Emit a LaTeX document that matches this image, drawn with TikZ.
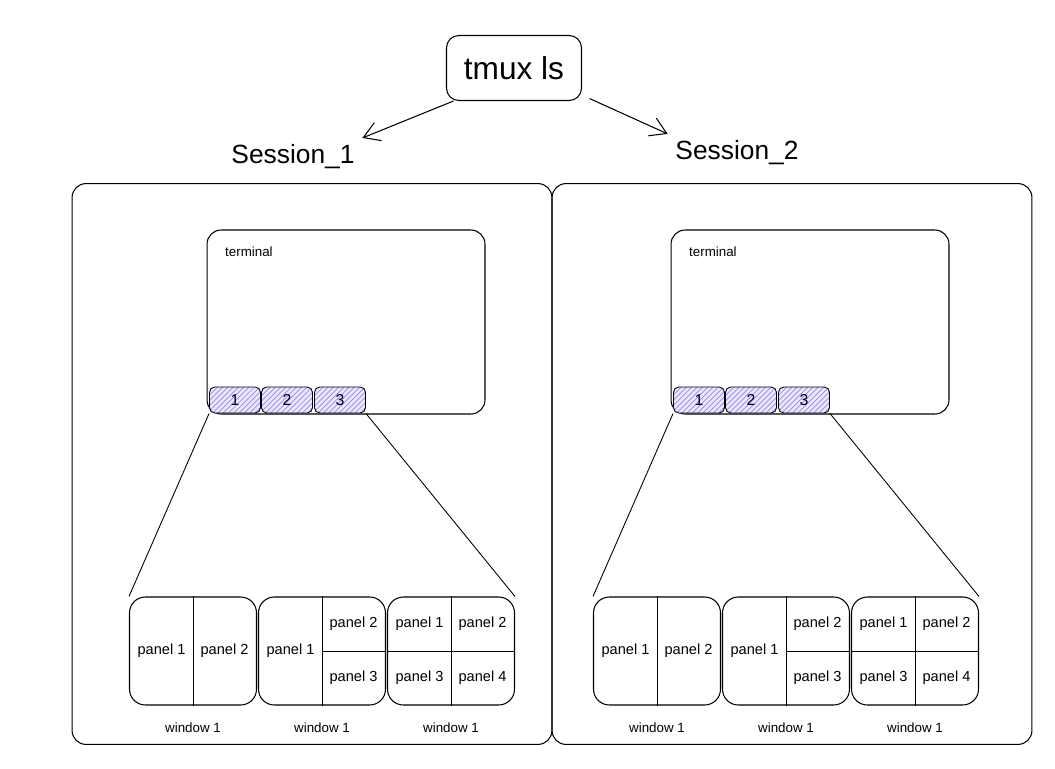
\documentclass[tikz,border=0pt]{standalone}
\usepackage{fontspec}
\setmainfont{Liberation Sans}
\usetikzlibrary{patterns,arrows.meta,positioning}
\definecolor{hatchblue}{RGB}{145,135,235}
\definecolor{tabfill}{RGB}{234,231,255}
\tikzset{roundbox/.style={draw, line width=0.6pt, rounded corners=8pt, inner sep=0pt},
  cmdbox/.style={roundbox, rounded corners=7pt, minimum width=2.7cm, minimum height=1.3cm, font=\fontsize{18}{20}\selectfont},
  sessbox/.style={roundbox, minimum width=9.6cm, minimum height=11.22cm},
  termbox/.style={roundbox, minimum width=5.56cm, minimum height=3.68cm},
  winbox/.style={roundbox, rounded corners=9pt, minimum width=2.54cm, minimum height=2.16cm},
  tabbox/.style={roundbox, line width=0.5pt, rounded corners=3pt, minimum width=1.02cm, minimum height=0.52cm,
    preaction={fill=tabfill}, pattern=north east lines, pattern color=hatchblue, font=\fontsize{9}{10}\selectfont},
  sesslabel/.style={font=\fontsize{15}{18}\selectfont},
  panellabel/.style={font=\fontsize{8.3}{9}\selectfont},
  smalllabel/.style={font=\fontsize{7.6}{8}\selectfont}
}

\begin{document}
\begin{tikzpicture}[x=0.02cm,y=-0.02cm]
\useasboundingbox (0,0) rectangle (1055,768);
\node[cmdbox] (tmux) at (514,68) {tmux ls};
\node[sesslabel] (s1lbl) at (293,157) {Session\_1};
\node[sesslabel] (s2lbl) at (737,153) {Session\_2};
\draw[-{Straight Barb[length=9pt,width=11pt]}, line width=0.6pt, shorten >=1pt] ([xshift=0.15cm]tmux.south west) -- (s1lbl.north east);
\draw[-{Straight Barb[length=9pt,width=11pt]}, line width=0.6pt, shorten >=1pt] ([shift={(0.15cm,0.05cm)}]tmux.south east) -- (s2lbl.north west);
\node[sessbox] (s1) at (312,464) {};
\node[sessbox] (s2) at (792,464) {};
\foreach \s/\dx in {1/0,2/464}{
  % terminal with its tabs
  \node[termbox] (term\s) at (346+\dx,322) {};
  \node[smalllabel, anchor=north west] (termlbl\s) at ([shift={(0.25cm,-0.22cm)}]term\s.north west) {terminal};
  \node[tabbox] (tab\s-1) at (235+\dx,400) {1};
  \node[tabbox] (tab\s-2) at (287+\dx,400) {2};
  \node[tabbox] (tab\s-3) at (340+\dx,400) {3};
  % windows
  \node[winbox] (win\s-1) at (193+\dx,651) {};
  \node[winbox] (win\s-2) at (322+\dx,651) {};
  \node[winbox] (win\s-3) at (451+\dx,651) {};
  \draw[line width=0.5pt] (win\s-1.north) -- (win\s-1.south);
  \draw[line width=0.5pt] (win\s-2.north) -- (win\s-2.south) (win\s-2.center) -- (win\s-2.east);
  \draw[line width=0.5pt] (win\s-3.north) -- (win\s-3.south) (win\s-3.west) -- (win\s-3.east);
  \node[panellabel] at ([xshift=-0.63cm]win\s-1.center) {panel 1};
  \node[panellabel] at ([xshift=0.63cm]win\s-1.center) {panel 2};
  \node[panellabel] at ([xshift=-0.63cm]win\s-2.center) {panel 1};
  \node[panellabel] at ([shift={(0.63cm,0.54cm)}]win\s-2.center) {panel 2};
  \node[panellabel] at ([shift={(0.63cm,-0.54cm)}]win\s-2.center) {panel 3};
  \node[panellabel] at ([shift={(-0.63cm,0.54cm)}]win\s-3.center) {panel 1};
  \node[panellabel] at ([shift={(0.63cm,0.54cm)}]win\s-3.center) {panel 2};
  \node[panellabel] at ([shift={(-0.63cm,-0.54cm)}]win\s-3.center) {panel 3};
  \node[panellabel] at ([shift={(0.63cm,-0.54cm)}]win\s-3.center) {panel 4};
  \node[smalllabel, below=0.22cm of win\s-1] {window 1};
  \node[smalllabel, below=0.22cm of win\s-2] {window 1};
  \node[smalllabel, below=0.22cm of win\s-3] {window 1};
  % zoom lines from the tabs to the windows
  \draw[line width=0.5pt] (tab\s-1.south west) -- (win\s-1.north west);
  \draw[line width=0.5pt] (tab\s-3.south east) -- (win\s-3.north east);
}
\end{tikzpicture}
\end{document}
